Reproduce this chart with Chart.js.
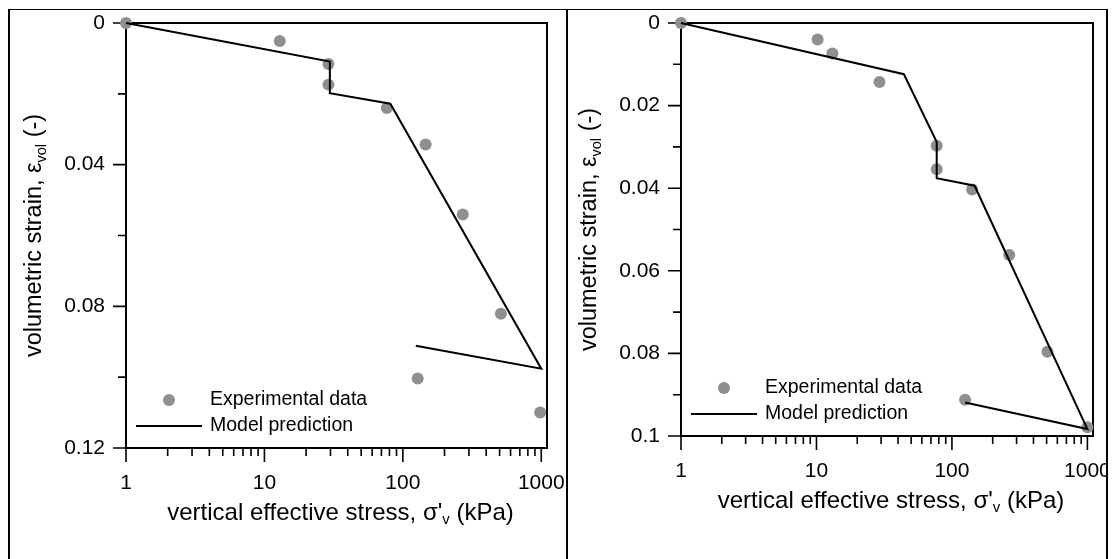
<!DOCTYPE html>
<html>
<head>
<meta charset="utf-8">
<script src="https://cdn.jsdelivr.net/npm/chart.js@4.4.0/dist/chart.umd.min.js"></script>
<style>
  body { margin: 0; background: #fff; width: 1112px; height: 559px; overflow: hidden; position: relative; }
  .line { position: absolute; background: #000; }
  .cell { position: absolute; overflow: hidden; }
</style>
</head>
<body>
<div class="line" style="left:8px;top:9px;width:1100px;height:1px"></div>
<div class="line" style="left:8px;top:9px;width:2px;height:550px"></div>
<div class="line" style="left:566px;top:9px;width:2px;height:550px"></div>
<div class="line" style="left:1106px;top:9px;width:2px;height:550px"></div>
<div class="cell" style="left:10px;top:10px;width:556px;height:549px"><canvas id="chartA" width="556" height="549"></canvas></div>
<div class="cell" style="left:568px;top:10px;width:538px;height:549px"><canvas id="chartB" width="538" height="549"></canvas></div>
<script>
// Left panel data
const expStressA = [1, 12.9, 29, 29, 76.6, 146, 271, 511, 128, 982];
const expStrainA = [0, 0.0051, 0.0116, 0.0174, 0.0240, 0.0343, 0.0541, 0.0821, 0.1004, 0.110];
const modelStressA = [1, 29.7, 29.7, 81.2, 1000, 124];
const modelStrainA = [0, 0.0109, 0.0198, 0.0228, 0.0976, 0.0911];

// Right panel data
const expStressB = [1, 10.2, 13.1, 29.2, 77.2, 77.2, 141, 265, 507, 125, 1000];
const expStrainB = [0, 0.0040, 0.0074, 0.0143, 0.0297, 0.0354, 0.0403, 0.0562, 0.0796, 0.0912, 0.0979];
const modelStressB = [1, 44.2, 77.2, 77.2, 147, 1000, 125];
const modelStrainB = [0, 0.0124, 0.0288, 0.0376, 0.0394, 0.0983, 0.0919];

// Tick values and labels
const xMajor = [1, 10, 100, 1000];
const xMajorLabels = ['1', '10', '100', '1000'];
const xMinor = [2, 3, 4, 5, 6, 7, 8, 9, 20, 30, 40, 50, 60, 70, 80, 90, 200, 300, 400, 500, 600, 700, 800, 900];
const yMajorA = [0, 0.04, 0.08, 0.12];
const yMajorLabelsA = ['0', '0.04', '0.08', '0.12'];
const yMinorA = [0.02, 0.06, 0.10];
const yMajorB = [0, 0.02, 0.04, 0.06, 0.08, 0.1];
const yMajorLabelsB = ['0', '0.02', '0.04', '0.06', '0.08', '0.1'];
const yMinorB = [0.01, 0.03, 0.05, 0.07, 0.09];

const legendLabels = ['Experimental data', 'Model prediction'];
const xTitle = [["vertical effective stress, \u03c3'", false], ['v', true], [' (kPa)', false]];
const yTitle = [['volumetric strain, \u03b5', false], ['vol', true], [' (-)', false]];

const FONT = "'Liberation Sans', Arial, sans-serif";
const dotColor = '#8f8f8f';

function findLabel(v, majors, labels) {
    const i = majors.findIndex(m => Math.abs(m - v) < 1e-9);
    return i === -1 ? '' : labels[i];
}

// Draw text made of normal and subscript parts
function drawRich(ctx, parts, x, y, size) {
    let width = 0;
    parts.forEach(p => {
        ctx.font = (p[1] ? size * 0.62 : size) + 'px ' + FONT;
        width += ctx.measureText(p[0]).width;
    });
    let cx = x - width / 2;
    ctx.textBaseline = 'middle';
    ctx.textAlign = 'left';
    parts.forEach(p => {
        ctx.font = (p[1] ? size * 0.62 : size) + 'px ' + FONT;
        ctx.fillText(p[0], cx, p[1] ? y + size * 0.3 : y);
        cx += ctx.measureText(p[0]).width;
    });
}

// Frame, tick marks, legend and axis titles
const panelDecor = {
    id: 'panelDecor',
    beforeDatasetsDraw(chart, args, opts) {
        const ctx = chart.ctx;
        const a = chart.chartArea;
        const xs = chart.scales.x, ys = chart.scales.y;
        ctx.save();
        ctx.strokeStyle = '#000';
        ctx.lineWidth = 2;
        ctx.strokeRect(a.left, a.top, a.right - a.left, a.bottom - a.top);
        ctx.lineWidth = 1.6;
        ctx.beginPath();
        xs.ticks.forEach(t => {
            const px = xs.getPixelForValue(t.value);
            const len = xMajor.includes(t.value) ? 14 : 8;
            ctx.moveTo(px, a.bottom);
            ctx.lineTo(px, a.bottom + len);
        });
        ys.ticks.forEach(t => {
            const py = ys.getPixelForValue(t.value);
            const len = findLabel(t.value, opts.yMajor, opts.yLabels) !== '' ? 13 : 8;
            ctx.moveTo(a.left, py);
            ctx.lineTo(a.left - len, py);
        });
        ctx.stroke();
        ctx.restore();
    },
    afterDraw(chart) {
        const ctx = chart.ctx;
        const a = chart.chartArea;
        const line = chart.data.datasets[0];
        const dots = chart.data.datasets[1];
        ctx.save();
        // legend
        const row1 = a.bottom - 48, row2 = a.bottom - 22;
        ctx.fillStyle = dots.backgroundColor;
        ctx.beginPath();
        ctx.arc(a.left + 43, row1, 6, 0, Math.PI * 2);
        ctx.fill();
        ctx.strokeStyle = line.borderColor;
        ctx.lineWidth = 2;
        ctx.beginPath();
        ctx.moveTo(a.left + 10, row2);
        ctx.lineTo(a.left + 76, row2);
        ctx.stroke();
        ctx.fillStyle = '#000';
        ctx.font = '19.5px ' + FONT;
        ctx.textAlign = 'left';
        ctx.textBaseline = 'middle';
        ctx.fillText(legendLabels[0], a.left + 84, row1);
        ctx.fillText(legendLabels[1], a.left + 84, row2);
        // axis titles
        drawRich(ctx, xTitle, (a.left + a.right) / 2 + 4, a.bottom + 65, 24);
        ctx.translate(a.left - 91, (a.top + a.bottom) / 2);
        ctx.rotate(-Math.PI / 2);
        drawRich(ctx, yTitle, 0, 0, 23.5);
        ctx.restore();
    }
};

// Function to build one panel
function makePanel(id, expX, expY, modelX, modelY, yMax, yMajor, yLabels, yMinor, pad) {
    const ctx = document.getElementById(id).getContext('2d');
    return new Chart(ctx, {
        type: 'scatter',
        data: {
            datasets: [{
                label: legendLabels[1],
                data: modelX.map((x, i) => ({ x: x, y: modelY[i] })),
                showLine: true,
                borderColor: '#000',
                borderWidth: 2,
                pointRadius: 0,
                fill: false,
                clip: false
            }, {
                label: legendLabels[0],
                data: expX.map((x, i) => ({ x: x, y: expY[i] })),
                backgroundColor: dotColor,
                borderColor: dotColor,
                pointRadius: 6,
                pointBorderWidth: 0,
                clip: false
            }]
        },
        options: {
            responsive: false,
            animation: false,
            layout: { padding: { top: 13, right: pad.right, left: 0, bottom: 0 } },
            plugins: {
                legend: { display: false },
                tooltip: { enabled: false },
                panelDecor: { yMajor: yMajor, yLabels: yLabels }
            },
            scales: {
                x: {
                    type: 'logarithmic',
                    min: 1,
                    max: 1100,
                    grid: { display: false, drawTicks: false },
                    border: { display: false },
                    afterBuildTicks: s => { s.ticks = xMajor.concat(xMinor).sort((p, q) => p - q).map(v => ({ value: v })); },
                    afterFit: s => { s.height = pad.xHeight; s.paddingLeft = 0; s.paddingRight = 0; },
                    ticks: {
                        autoSkip: false,
                        maxRotation: 0,
                        padding: 23,
                        color: '#000',
                        font: { family: FONT, size: 21 },
                        callback: v => findLabel(v, xMajor, xMajorLabels)
                    }
                },
                y: {
                    type: 'linear',
                    min: 0,
                    max: yMax,
                    reverse: true,
                    grid: { display: false, drawTicks: false },
                    border: { display: false },
                    afterBuildTicks: s => { s.ticks = yMajor.concat(yMinor).sort((p, q) => p - q).map(v => ({ value: v })); },
                    afterFit: s => { s.width = pad.yWidth; s.paddingTop = 0; s.paddingBottom = 0; },
                    ticks: {
                        autoSkip: false,
                        padding: 21,
                        color: '#000',
                        font: { family: FONT, size: 21 },
                        callback: v => findLabel(v, yMajor, yLabels)
                    }
                }
            }
        },
        plugins: [panelDecor]
    });
}

makePanel('chartA', expStressA, expStrainA, modelStressA, modelStrainA, 0.12, yMajorA, yMajorLabelsA, yMinorA,
    { right: 19, xHeight: 111, yWidth: 116 });
makePanel('chartB', expStressB, expStrainB, modelStressB, modelStrainB, 0.1, yMajorB, yMajorLabelsB, yMinorB,
    { right: 13, xHeight: 123, yWidth: 113 });
</script>
</body>
</html>
